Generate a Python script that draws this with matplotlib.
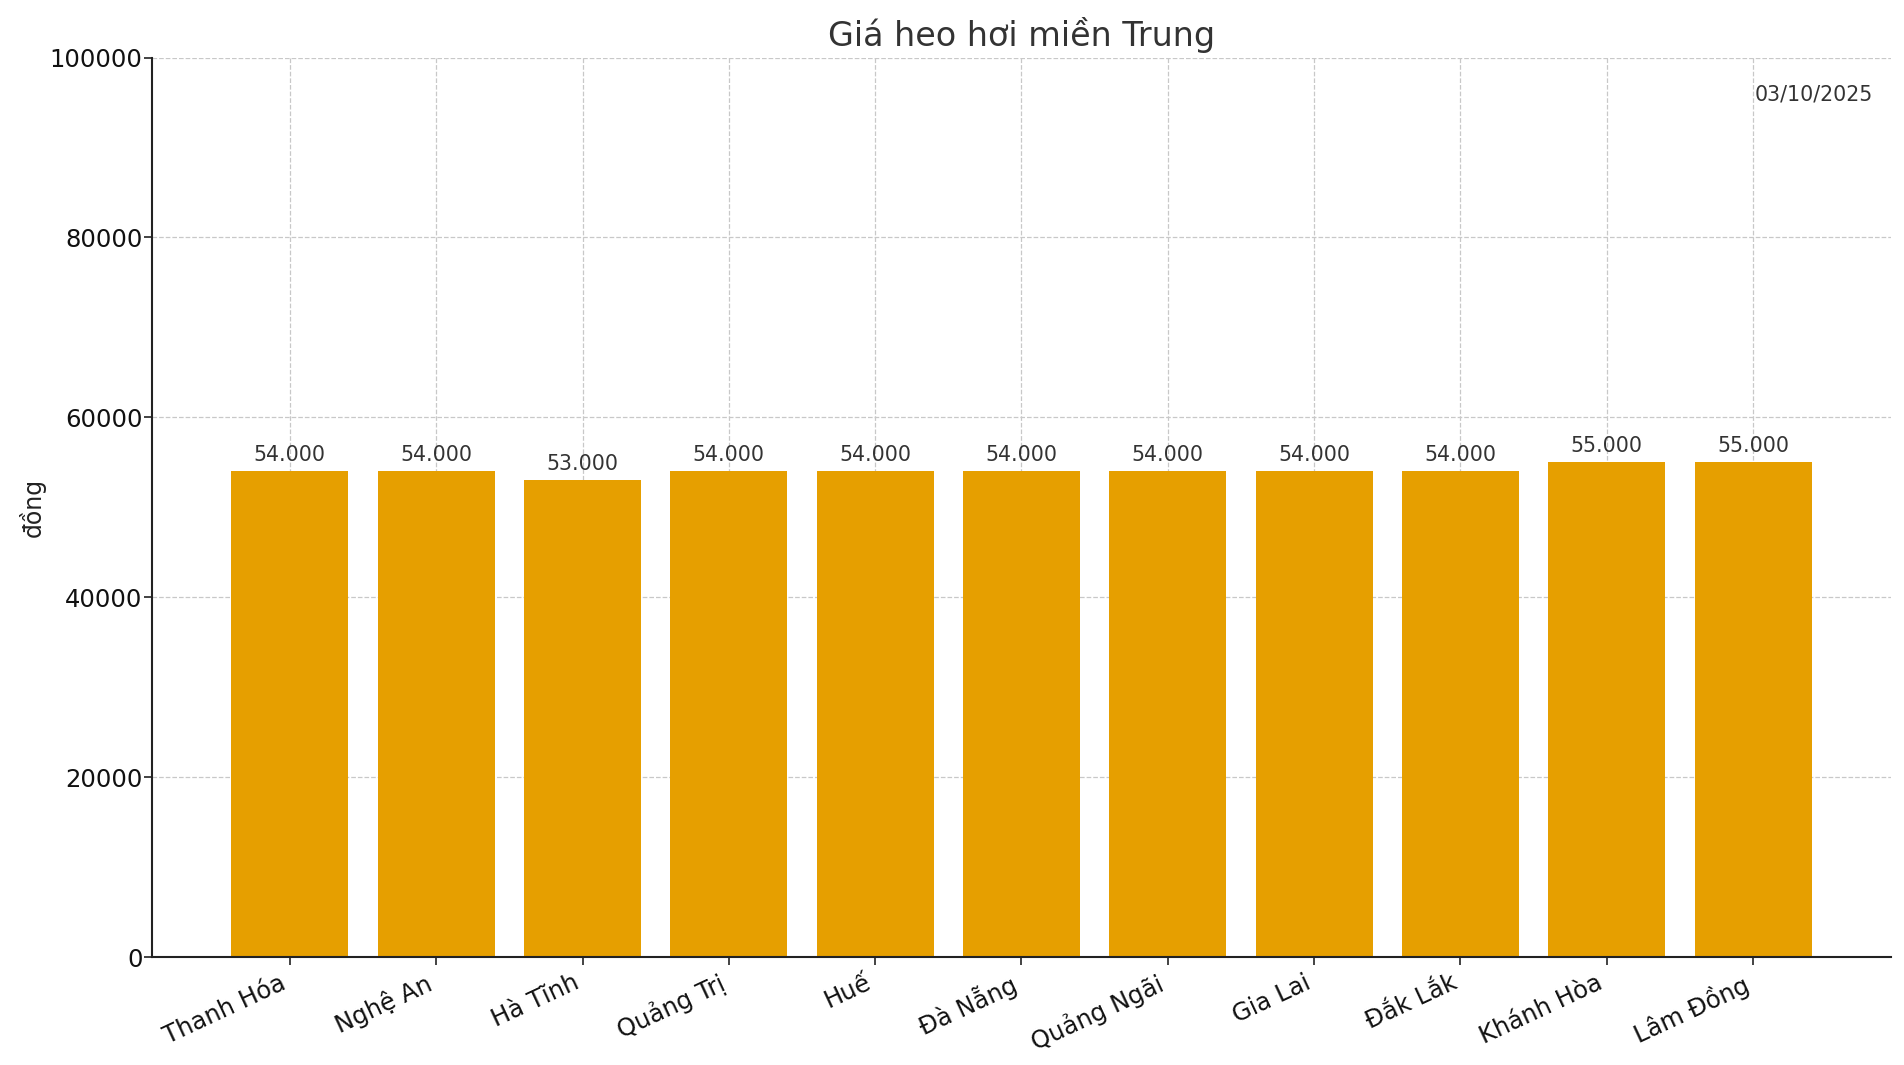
import numpy as np
import matplotlib.pyplot as plt

# Data
provinces = ['Thanh Hóa', 'Nghệ An', 'Hà Tĩnh', 'Quảng Trị', 'Huế', 'Đà Nẵng',
             'Quảng Ngãi', 'Gia Lai', 'Đắk Lắk', 'Khánh Hòa', 'Lâm Đồng']
prices = [54000, 54000, 53000, 54000, 54000, 54000, 54000, 54000, 54000, 55000, 55000]
date_label = '03/10/2025'
title = 'Giá heo hơi miền Trung'

plt.rcParams['font.family'] = ['DejaVu Sans']

fig = plt.figure(figsize=(19.04, 10.65), dpi=100)
ax = fig.add_axes([0.080, 0.101, 0.913, 0.845])

x = np.arange(len(provinces))
bars = ax.bar(x, prices, width=0.8, color='#E69F00', zorder=2)

# value labels above each bar
for xi, val in zip(x, prices):
    ax.annotate(f'{val:,}'.replace(',', '.'), xy=(xi, val), xytext=(0, 5),
                textcoords='offset points', ha='center', va='bottom',
                fontsize=14.8, color='#333333', zorder=3)

ax.set_xlim(-0.94, len(provinces) - 1 + 0.94)
ax.set_ylim(0, 100000)
ax.set_yticks([0, 20000, 40000, 60000, 80000, 100000])
ax.set_xticks(x)
ax.set_xticklabels(provinces, rotation=25, ha='right', fontsize=17.5)
ax.tick_params(axis='y', labelsize=17.5, pad=1)
ax.tick_params(axis='both', colors='#222222', labelcolor='#111111', length=6, width=1.2)

ax.grid(True, linestyle='--', color='#c8c8c8', linewidth=0.9, zorder=0)
ax.set_axisbelow(True)

for side in ['top', 'right']:
    ax.spines[side].set_visible(False)
for side in ['left', 'bottom']:
    ax.spines[side].set_color('#222222')
    ax.spines[side].set_linewidth(1.5)

ax.set_title(title, fontsize=24, color='#333333', pad=8)
ax.set_ylabel('đồng', fontsize=17, color='#222222', labelpad=3)

ax.text(0.99, 0.97, date_label, transform=ax.transAxes, ha='right', va='top',
        fontsize=14.8, color='#333333')

fig.savefig('out.png', dpi=100)
